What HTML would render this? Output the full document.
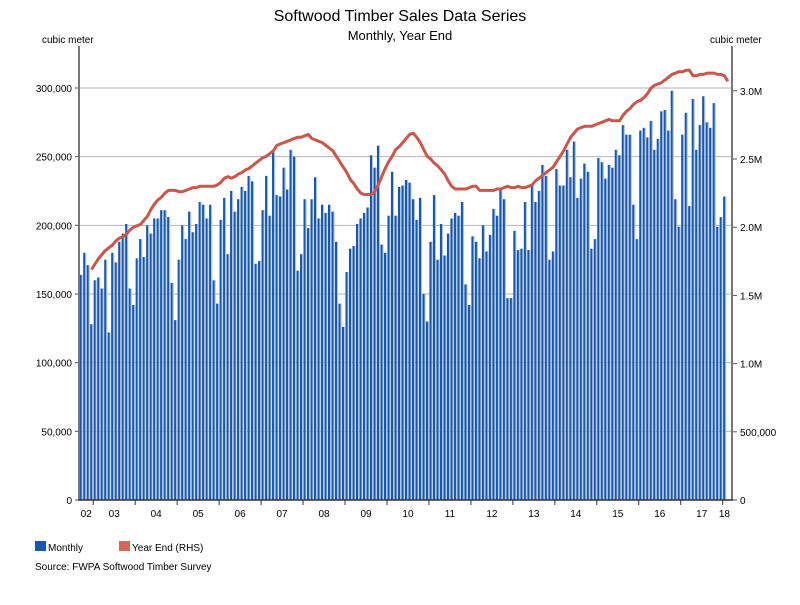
<!DOCTYPE html>
<html><head><meta charset="utf-8">
<style>
body{margin:0;background:#fff;font-family:"Liberation Sans",Arial,sans-serif;}
svg text{font-family:"Liberation Sans",Arial,sans-serif;}
</style></head>
<body>
<svg id="chart" width="800" height="600" viewBox="0 0 800 600" xmlns="http://www.w3.org/2000/svg">
<text x="400" y="21" text-anchor="middle" font-size="16" fill="#000">Softwood Timber Sales Data Series</text>
<text x="400" y="40" text-anchor="middle" font-size="13" fill="#000">Monthly, Year End</text>
<text x="42" y="43" font-size="10" fill="#000">cubic meter</text>
<text x="710" y="43" font-size="10" fill="#000">cubic meter</text>
<g id="grid"></g>
<g id="bars"></g>
<path id="line" fill="none" stroke="#c9574b" stroke-width="3" stroke-linejoin="round"></path>
<g id="axes"></g>
<g>
<rect x="35" y="541" width="11" height="10" fill="#1a57a8"></rect>
<text x="48" y="551" font-size="10" fill="#000">Monthly</text>
<rect x="119" y="541" width="11" height="10" fill="#d0685c"></rect>
<text x="132" y="551" font-size="10" fill="#000">Year End (RHS)</text>
</g>
<text x="35" y="570" font-size="10" fill="#000">Source: FWPA Softwood Timber Survey</text>
</svg>
<script>
// Data: Sep 2002 .. Feb 2018 (thousand cubic metres)
const startYear = 2002, startMonth = 8; // 0-based month (Sep)
const monthly = [164,180,171,128,
160,162,154,175,122,180,173,188,194,201,154,142,
176,190,177,200,194,205,205,211,211,206,158,131,
175,200,190,210,195,201,217,215,205,215,160,143,
204,220,179,225,210,219,228,225,236,232,172,174,
211,236,207,254,222,221,242,226,255,250,167,179,
219,198,219,235,205,215,209,215,210,188,143,126,
166,183,185,201,205,209,213,251,242,258,186,180,
207,239,207,228,229,233,231,219,204,220,150,130,
188,222,175,201,178,194,205,209,207,217,157,142,
192,188,176,200,181,193,212,207,226,219,147,147,
196,182,183,217,182,230,217,225,244,236,175,181,
241,229,229,255,235,261,220,234,245,239,183,190,
249,246,234,244,242,255,251,273,266,266,215,190,
269,271,264,276,255,263,283,284,269,298,219,199,
266,282,214,292,255,273,294,275,271,289,199,206,
221];
// Year End rolling total (million cubic metres), RHS
const yearEnd = [null,null,null,1.69,1.73,1.77,1.80,1.83,1.85,1.87,1.90,1.92,1.93,1.95,1.98,2.00,2.01,2.02,2.05,2.08,2.13,2.17,2.20,2.22,2.25,2.27,2.27,2.27,2.26,2.26,2.27,2.28,2.29,2.29,2.30,2.30,2.30,2.30,2.30,2.31,2.33,2.36,2.37,2.36,2.37,2.39,2.40,2.42,2.43,2.45,2.47,2.49,2.51,2.52,2.54,2.56,2.60,2.61,2.62,2.63,2.64,2.65,2.66,2.66,2.67,2.68,2.65,2.64,2.63,2.62,2.60,2.58,2.56,2.52,2.48,2.44,2.40,2.35,2.32,2.28,2.25,2.24,2.24,2.24,2.26,2.31,2.37,2.43,2.48,2.52,2.57,2.59,2.62,2.65,2.68,2.69,2.66,2.62,2.57,2.52,2.50,2.47,2.45,2.42,2.39,2.34,2.30,2.28,2.28,2.28,2.28,2.29,2.30,2.30,2.27,2.27,2.27,2.27,2.27,2.28,2.28,2.29,2.30,2.29,2.29,2.30,2.29,2.29,2.30,2.31,2.34,2.36,2.38,2.40,2.42,2.44,2.48,2.52,2.56,2.61,2.66,2.69,2.72,2.73,2.74,2.74,2.74,2.75,2.76,2.77,2.78,2.79,2.78,2.78,2.78,2.82,2.85,2.87,2.90,2.92,2.93,2.95,2.98,3.02,3.04,3.05,3.06,3.08,3.10,3.12,3.13,3.14,3.14,3.15,3.15,3.11,3.11,3.12,3.12,3.13,3.13,3.13,3.12,3.12,3.11,3.07];
const leftTicks = [0,50000,100000,150000,200000,250000,300000];
const leftTickLabels = ["0","50,000","100,000","150,000","200,000","250,000","300,000"];
const rightTicks = [0,0.5,1.0,1.5,2.0,2.5,3.0];
const rightTickLabels = ["0","500,000","1.0M","1.5M","2.0M","2.5M","3.0M"];

const NS="http://www.w3.org/2000/svg";
const X0=81, MW=3.497, Y0=500;
const xOf=i=>X0+i*MW;
const yL=v=>Y0-v*412/300000;      // v in cubic metres
const yR=m=>Y0-m*136.4;           // m in millions
function mk(tag,attrs,parent){const e=document.createElementNS(NS,tag);for(const k in attrs)e.setAttribute(k,attrs[k]);parent.appendChild(e);return e;}
const grid=document.getElementById('grid'), bars=document.getElementById('bars'), axes=document.getElementById('axes');
leftTicks.forEach((t,k)=>{
  if(t>0){const g=mk('line',{x1:79,x2:732,y1:yL(t),y2:yL(t),stroke:'#b4b4b4','stroke-width':1},grid);
    
    }
  const tl=mk('line',{x1:75,x2:79,y1:yL(t),y2:yL(t),stroke:'#555'},axes);
  
  
  const tx=mk('text',{x:72,y:yL(t)+4,'text-anchor':'end','font-size':10,fill:'#000'},axes);
  tx.textContent=leftTickLabels[k];
  
  
});
rightTicks.forEach((t,k)=>{
  const tl=mk('line',{x1:732,x2:737,y1:yR(t),y2:yR(t),stroke:'#555'},axes);
  
  
  const tx=mk('text',{x:740,y:yR(t)+4,'font-size':10,fill:'#000'},axes);
  tx.textContent=rightTickLabels[k];
  
  
});
monthly.forEach((v,i)=>{
  const x=xOf(i)-1.3, y=yL(v*1000);
  const r=mk('rect',{x:x,y:y,width:2.1,height:Y0-y,fill:'#1a57a8'},bars);
  
  
  const r2=mk('rect',{x:x+2.1,y:y,width:1,height:Y0-y,fill:'#a8c3e6'},bars);
  
  
});
let d='';
yearEnd.forEach((m,i)=>{if(m===null)return;d+=(d?'L':'M')+xOf(i).toFixed(1)+','+yR(m).toFixed(1);});
document.getElementById('line').setAttribute('d',d);
// axis lines
const la=mk('line',{x1:79,x2:79,y1:46,y2:Y0,stroke:'#777','stroke-width':2},axes);


const ra=mk('line',{x1:732,x2:732,y1:46,y2:Y0,stroke:'#777','stroke-width':2},axes);


const ba=mk('line',{x1:78,x2:733,y1:Y0,y2:Y0,stroke:'#333','stroke-width':1.5},axes);


// year ticks & labels
const n=monthly.length;
const lastX=xOf(n-1)+1.75, firstX=X0-1.75;
for(let y=startYear;y<=startYear+16;y++){
  const iStart=(y-startYear)*12-startMonth, iEnd=iStart+12;
  const bx=xOf(iStart)-1.75;
  if(iStart>0){const t=mk('line',{x1:bx,x2:bx,y1:Y0,y2:Y0+5,stroke:'#333'},axes);
    
    }
  const a=Math.max(bx,firstX), b=Math.min(xOf(iEnd)-1.75,lastX);
  if(b<=a)continue;
  const tx=mk('text',{x:(a+b)/2,y:517,'text-anchor':'middle','font-size':10,fill:'#000'},axes);
  tx.textContent=String(y%100).padStart(2,'0');
  
  
}
</script>
</body></html>
